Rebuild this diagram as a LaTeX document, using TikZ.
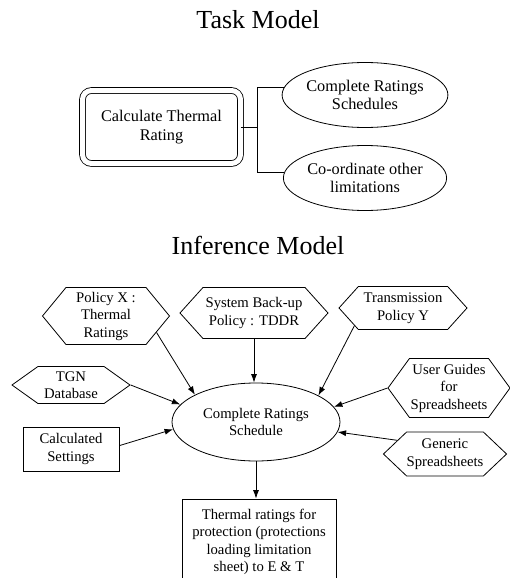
\documentclass[tikz,border=0pt]{standalone}
\usepackage{fontspec}
\setmainfont{Liberation Serif}
\usetikzlibrary{shapes.geometric,shapes.symbols,arrows.meta}

\begin{document}
\begin{tikzpicture}%
	[x=1pt, y=-1pt,
	line width=0.8pt,
	every node/.style={font=\fontsize{14.7}{17.5}\selectfont, align=center, inner sep=0pt},
	heading/.style={font=\fontsize{26}{28}\selectfont},
	tasktext/.style={font=\fontsize{16.3}{18.5}\selectfont},
	taskbox/.style={tasktext, draw, double, double distance=5pt, rounded corners=9pt, minimum width=158pt, minimum height=73pt},
	subtask/.style={tasktext, draw, ellipse, minimum width=163pt, minimum height=65pt},
	source/.style={draw, signal, signal to=east and west, signal pointer angle=#1},
	source/.default=96,
	rolebox/.style={draw, rectangle},
	infer/.style={-{Latex[length=8.5pt,width=6pt]}}]
%
\useasboundingbox (0,0) rectangle (510,578);
%%
%% Task model
%%
\node[heading] (tasktitle) at (258,20) {Task Model};
\node[taskbox] (thermal) at (161.5,127) {Calculate Thermal\\Rating};
\node[subtask] (schedules) at (365,95) {Complete Ratings\\Schedules};
\node[subtask] (limits) at (365,178) {Co-ordinate other\\limitations};
%
\draw (thermal.east) -- ++(16,0) coordinate (fork);
\draw (schedules.175) -| (fork);
\draw (limits.176) -| (fork);
%%
%% Inference model
%%
\node[heading] (inftitle) at (258,245) {Inference Model};
\node[draw, ellipse, minimum width=168pt, minimum height=78pt] (ratings) at (256,422) {Complete Ratings\\Schedule};
%
\node[source=101, minimum width=127pt, minimum height=57pt] (policyx) at (106,316) {Policy X :\\Thermal\\Ratings};
\node[source=96, minimum width=148pt, minimum height=51pt] (backup) at (254,313) {System Back-up\\Policy : TDDR};
\node[source=96, minimum width=128pt, minimum height=43pt] (policyy) at (403,308) {Transmission\\Policy Y};
\node[source=71, minimum width=118pt, minimum height=37pt] (tgn) at (71,385) {TGN\\Database};
\node[source=108, minimum width=122pt, minimum height=59pt] (guides) at (449,388) {User Guides\\for\\Spreadsheets};
\node[source=87, minimum width=120pt, minimum height=44pt] (generic) at (445,454) {Generic\\Spreadsheets};
\node[rolebox, minimum width=96pt, minimum height=44pt] (settings) at (71,449) {Calculated\\Settings};
\node[rolebox, minimum width=154pt, minimum height=86pt] (output) at (259,542) {Thermal ratings for\\protection (protections\\loading limitation\\sheet) to E \& T};
%%
%% Inputs into the schedule
%%
\draw[infer] (policyx.-18) -- (ratings.156);
\draw[infer] (backup.south) -- (backup.south |- ratings.north);
\draw[infer] (policyy.-160) -- (ratings.23);
\draw[infer] (tgn.east) -- (ratings.167);
\draw[infer] (guides.west) -- (ratings.11);
\draw[infer] (settings.4) -- (ratings.-175);
\draw[infer] (generic.164) -- (ratings.-7);
%%
\draw[infer] (ratings.south) -- (ratings.south |- output.north);

\end{tikzpicture}
\end{document}
